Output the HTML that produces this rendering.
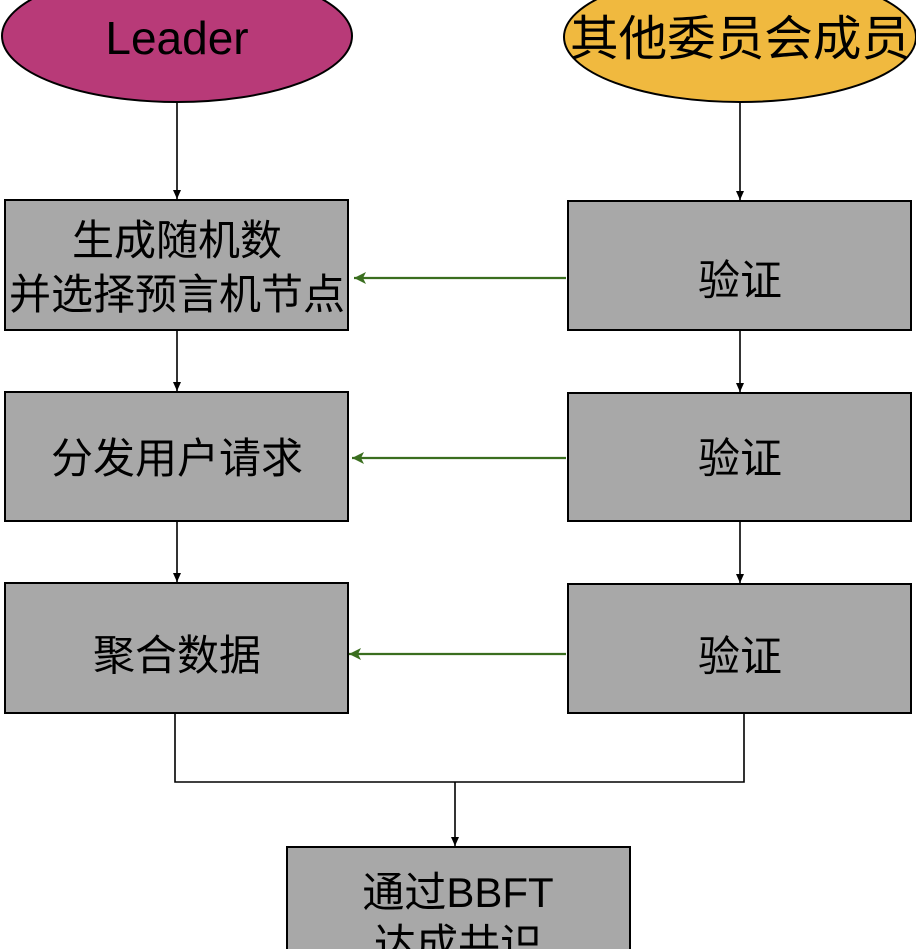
<!DOCTYPE html>
<html><head><meta charset="utf-8"><style>
html,body{margin:0;padding:0;background:#fff;width:916px;height:949px;overflow:hidden}
text{font-family:"Liberation Sans","Noto Sans CJK SC",sans-serif;fill:#000}
</style></head><body>
<svg width="916" height="949" viewBox="0 0 916 949" xmlns="http://www.w3.org/2000/svg">
<defs>
<marker id="ab" markerWidth="10" markerHeight="10" refX="9" refY="5" orient="auto" markerUnits="userSpaceOnUse"><path d="M0,1 L9,5 L0,9 Z" fill="#000"/></marker>
<marker id="ag" markerWidth="14" markerHeight="14" refX="12" refY="7" orient="auto" markerUnits="userSpaceOnUse"><path d="M0,1 L12,7 L0,13 L3,7 Z" fill="#3a6e1f"/></marker>
</defs>
<ellipse cx="177" cy="36" rx="175" ry="66" fill="#B83A78" stroke="#000" stroke-width="2"/>
<text x="177" y="54" text-anchor="middle" style="font-size:46px">Leader</text>
<ellipse cx="740" cy="37" rx="176" ry="65" fill="#F0B93F" stroke="#000" stroke-width="2"/>
<text x="740" y="55" text-anchor="middle" style="font-size:48px" textLength="340" lengthAdjust="spacingAndGlyphs">其他委员会成员</text>
<g fill="#A8A8A8" stroke="#000" stroke-width="2">
<rect x="5" y="200" width="343" height="130"/>
<rect x="5" y="392" width="343" height="129"/>
<rect x="5" y="583" width="343" height="130"/>
<rect x="568" y="201" width="343" height="129"/>
<rect x="568" y="393" width="343" height="128"/>
<rect x="568" y="584" width="343" height="129"/>
<rect x="287" y="847" width="343" height="130"/>
</g>
<g style="font-size:42px">
<text x="177" y="255" text-anchor="middle">生成随机数</text>
<text x="177" y="309" text-anchor="middle">并选择预言机节点</text>
<text x="177" y="473" text-anchor="middle">分发用户请求</text>
<text x="177" y="670" text-anchor="middle">聚合数据</text>
<text x="740" y="295" text-anchor="middle">验证</text>
<text x="740" y="473" text-anchor="middle">验证</text>
<text x="740" y="671" text-anchor="middle">验证</text>
<text x="458" y="907" text-anchor="middle">通过BBFT</text>
<text x="458" y="959" text-anchor="middle">达成共识</text>
</g>
<g stroke="#000" stroke-width="1.6" fill="none">
<line x1="177" y1="102" x2="177" y2="199" marker-end="url(#ab)"/>
<line x1="740" y1="102" x2="740" y2="200" marker-end="url(#ab)"/>
<line x1="177" y1="331" x2="177" y2="391" marker-end="url(#ab)"/>
<line x1="740" y1="331" x2="740" y2="392" marker-end="url(#ab)"/>
<line x1="177" y1="522" x2="177" y2="582" marker-end="url(#ab)"/>
<line x1="740" y1="522" x2="740" y2="583" marker-end="url(#ab)"/>
<polyline points="175,714 175,782 744,782 744,714"/>
<line x1="455" y1="782" x2="455" y2="846" marker-end="url(#ab)"/>
</g>
<g stroke="#3a6e1f" stroke-width="2.2" fill="none">
<line x1="566" y1="278" x2="354" y2="278" marker-end="url(#ag)"/>
<line x1="566" y1="458" x2="352" y2="458" marker-end="url(#ag)"/>
<line x1="566" y1="654" x2="349" y2="654" marker-end="url(#ag)"/>
</g>
</svg>
</body></html>
